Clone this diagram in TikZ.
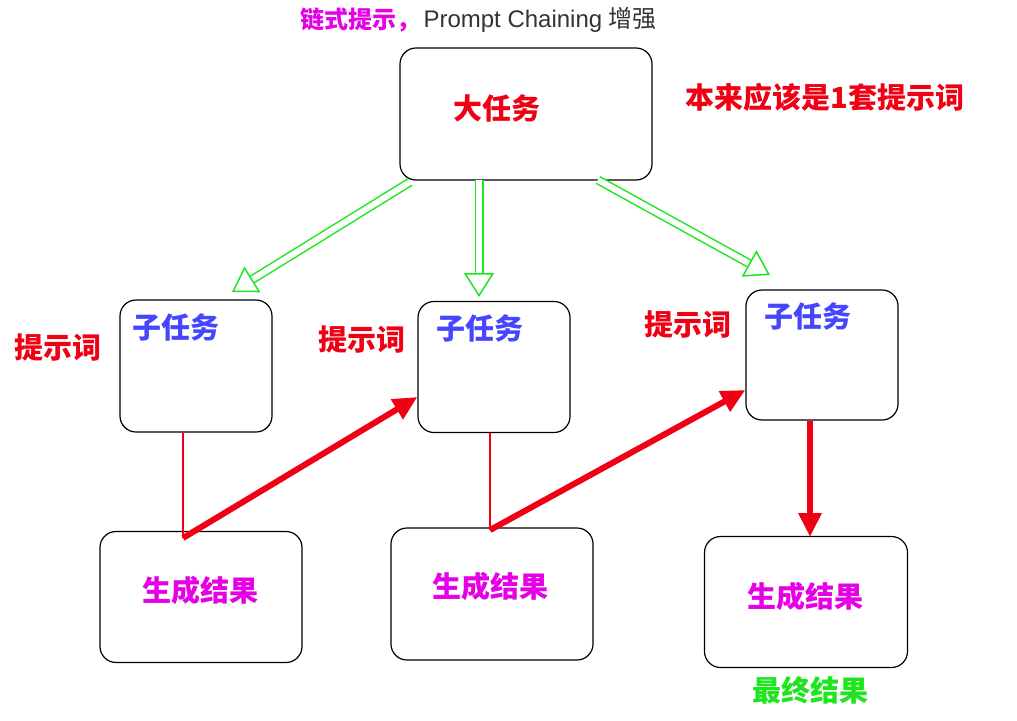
\documentclass[tikz,border=0pt]{standalone}
\usepackage{fontspec}
\setmainfont{Liberation Sans}
\newfontfamily\cjk{Noto Sans CJK SC}
\usetikzlibrary{arrows.meta}
\definecolor{tred}{RGB}{240,0,20}
\definecolor{tblue}{RGB}{70,70,255}
\definecolor{tpink}{RGB}{230,0,230}
\definecolor{tgreen}{RGB}{30,230,30}
\begin{document}
\begin{tikzpicture}[x=1pt,y=-1pt,
  box/.style={draw,rounded corners=16pt,line width=1.2pt},
  txt/.style={font=\cjk\bfseries\fontsize{29}{32}\selectfont},
  open/.style={tgreen,line width=1.5pt,double,double distance=6pt,-{Triangle[open,length=24pt,width=30pt]}},
  link/.style={tred,line width=2.2pt},
  push/.style={tred,line width=6pt,-{Triangle[length=24pt,width=22pt]}}]
  \useasboundingbox (0,0) rectangle (1017,720);
  % boxes
  \node[box,minimum width=252pt,minimum height=132pt](big)  at (526,114) {};
  \node[box,minimum width=152pt,minimum height=132pt](sub1) at (196,366) {};
  \node[box,minimum width=152pt,minimum height=131pt](sub2) at (494,367) {};
  \node[box,minimum width=152pt,minimum height=130pt](sub3) at (822,355) {};
  \node[box,minimum width=202pt,minimum height=131pt](res1) at (201,597) {};
  \node[box,minimum width=202pt,minimum height=132pt](res2) at (492,594) {};
  \node[box,minimum width=203pt,minimum height=131pt](res3) at (806,602) {};
  % texts
  \node[txt,text=tred](bigt)   at (497,108) {大任务};
  \node[txt,text=tblue](sub1t) at (176,327) {子任务};
  \node[txt,text=tblue](sub2t) at (480,328) {子任务};
  \node[txt,text=tblue](sub3t) at (808,316) {子任务};
  \node[txt,text=tpink](res1t) at (200,590) {生成结果};
  \node[txt,text=tpink](res2t) at (490,586) {生成结果};
  \node[txt,text=tpink](res3t) at (805,596) {生成结果};
  \node[txt,text=tred](p1) at (58,348)  {提示词};
  \node[txt,text=tred](p2) at (362,340) {提示词};
  \node[txt,text=tred](p3) at (688,325) {提示词};
  \node[txt,text=tred](note) at (825,97) {本来应该是1套提示词};
  \node[txt,text=tgreen](final) at (810,690) {最终结果};
  \node[txt,text=tpink,anchor=east,font=\cjk\bfseries\fontsize{24}{28}\selectfont](title) at (424,20) {链式提示，};
  \node[anchor=west,text=black!80,font=\fontsize{24}{28}\selectfont](titleb) at (420,20) {Prompt Chaining {\cjk 增强}};
  % connectors
  \coordinate (k1) at (183,538);
  \coordinate (k2) at (490,530);
  \draw[open] (410,182) -- (232,292);
  \draw[open] (479,180) -- (479,297);
  \draw[open] (598,180) -- (770,275);
  \draw[link] (sub1.south -| k1) -- (k1);
  \draw[push] (k1) -- (sub2.south west |- 0,397);
  \draw[link] (sub2.south -| k2) -- (k2);
  \draw[push] (k2) -- (sub3.south west |- 0,390);
  \draw[push] (sub3.south -| 810,0) -- (810,537);
\end{tikzpicture}
\end{document}
